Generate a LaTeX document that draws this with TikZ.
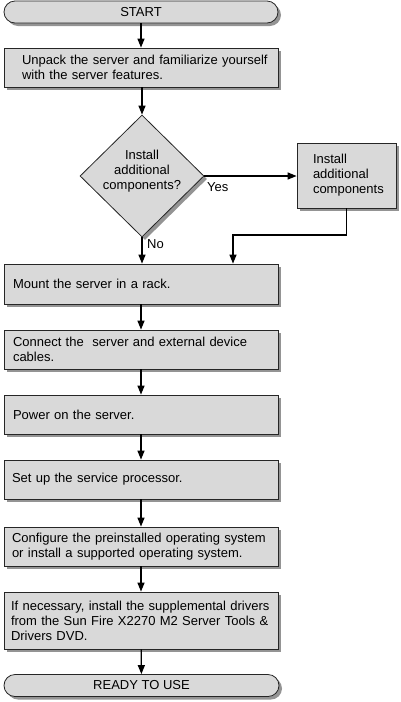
\documentclass[tikz,border=0pt]{standalone}
\usepackage{fontspec}
\setmainfont{Liberation Sans}
\usetikzlibrary{arrows.meta,shapes.geometric,shadows}
\begin{document}
\begin{tikzpicture}[x=1pt,y=-1pt,
  every node/.style={font=\fontsize{13pt}{15pt}\selectfont},
  shad/.style={drop shadow={shadow xshift=3pt,shadow yshift=-3pt,fill=black!42,opacity=1}},
  stepbox/.style={draw=black!85,line width=0.8pt,fill=black!15,shad,
    minimum width=274pt,text width=262pt,inner xsep=6pt,align=left,inner ysep=0pt},
  term/.style={draw=black!85,line width=0.8pt,fill=black!15,shad,rounded corners=11pt,
    minimum width=274pt,minimum height=22pt,inner sep=0pt,align=center},
  conn/.style={line width=1.3pt,-{Triangle[length=9pt,width=7pt]}},
  lbl/.style={anchor=west,inner sep=0pt}]
\useasboundingbox (0,0) rectangle (401,702);
\node[term] (start) at (141,12) {START};
\node[stepbox,minimum height=39pt] (b1) at (141,67.5) {\hspace*{12pt}Unpack the server and familiarize yourself\\\hspace*{12pt}with the server features.};
\node[diamond,draw=black!85,line width=0.8pt,fill=black!15,shad,minimum width=124pt,minimum height=122pt,inner sep=0pt] (d) at (142,176) {};
\node[align=center,inner sep=0pt] (dt) at (142,171) {Install\\additional\\components?};
\node[draw=black!85,line width=0.8pt,fill=black!15,shad,minimum width=99pt,minimum height=65pt,text width=67pt,inner xsep=16pt,inner ysep=0pt,align=left] (side) at (346.5,175.5) {Install\\additional\\components};
\node[stepbox,minimum height=40pt] (b2) at (141,284) {\hspace*{3pt}Mount the server in a rack.};
\node[stepbox,minimum height=39pt] (b3) at (141,349.5) {\hspace*{3pt}Connect the\ \ server and external device\\\hspace*{3pt}cables.};
\node[stepbox,minimum height=39pt] (b4) at (141,414.5) {\hspace*{3pt}Power on the server.};
\node[stepbox,minimum height=39pt] (b5) at (141,479.5) {\hspace*{2pt}Set up the service processor.};
\node[stepbox,minimum height=39pt] (b6) at (141,546.5) {\hspace*{2pt}Configure the preinstalled operating system\\\hspace*{2pt}or install a supported operating system.};
\node[stepbox,minimum height=57pt] (b7) at (141,620.5) {\hspace*{1pt}If necessary, install the supplemental drivers\\\hspace*{1pt}from the Sun Fire X2270 M2 Server Tools \&\\\hspace*{1pt}Drivers DVD.};
\node[term,minimum width=275pt] (ready) at (141.5,685.5) {READY TO USE};
\node[lbl] (yes) at (207,187) {Yes};
\node[lbl] (no) at (147,244) {No};
\coordinate (bend) at (233,235);
\draw[conn] (start) -- (b1);
\draw[conn] (b1.south -| d.north) -- (d.north);
\draw[conn] (d.south) -- (d.south |- b2.north);
\draw[conn] (d.east) -- (d.east -| side.west);
\draw[conn] (side.south) |- (bend) -- (bend |- b2.north);
\draw[conn] (b2) -- (b3);
\draw[conn] (b3) -- (b4);
\draw[conn] (b4) -- (b5);
\draw[conn] (b5) -- (b6);
\draw[conn] (b6) -- (b7);
\draw[conn] (b7) -- (ready);
\end{tikzpicture}
\end{document}
